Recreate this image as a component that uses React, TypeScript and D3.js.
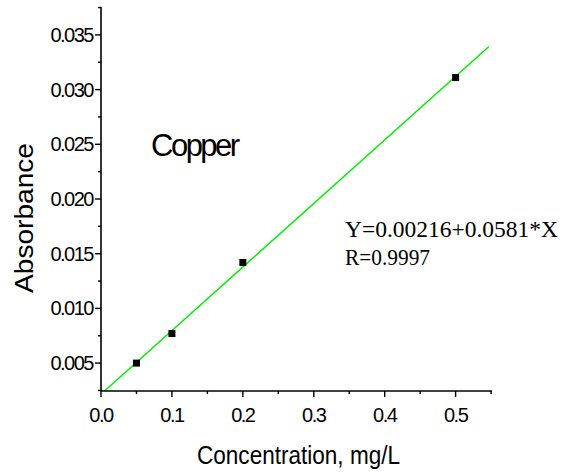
import React from "react";
import * as d3 from "d3";

const concentrations = [0.05, 0.1, 0.2, 0.5];
const absorbances = [0.005, 0.0077, 0.0142, 0.0311];
const fitIntercept = 0.00216;
const fitSlope = 0.0581;
const fitXEnd = 0.547;
const xTicks = [0.0, 0.1, 0.2, 0.3, 0.4, 0.5];
const yTicks = [0.005, 0.01, 0.015, 0.02, 0.025, 0.03, 0.035];
const xMinor = [0.05, 0.15, 0.25, 0.35, 0.45, 0.55];
const yMinor = [0.0025, 0.0075, 0.0125, 0.0175, 0.0225, 0.0275, 0.0325, 0.0375];
const xTitle = "Concentration, mg/L";
const yTitle = "Absorbance";
const label = "Copper";
const eqLine1 = "Y=0.00216+0.0581*X";
const eqLine2 = "R=0.9997";

const W = 569, H = 474;
const left = 101, right = 492, top = 7, bottom = 391;

export default function App() {
  const x = d3.scaleLinear().domain([0, 0.5513]).range([left, right]);
  const y = d3.scaleLinear().domain([0.00245, 0.03755]).range([bottom, top]);
  const fitY = (v: number) => fitIntercept + fitSlope * v;
  const x0 = (0.00245 - fitIntercept) / fitSlope;
  const line = d3.line<number>().x((d) => x(d)).y((d) => y(fitY(d)));
  const font = "Liberation Sans, Arial, sans-serif";
  const serif = "Liberation Serif, Times New Roman, serif";
  return (
    <svg width={W} height={H} style={{ position: "absolute", left: 0, top: 0, background: "#fff" }}>
      <rect width={W} height={H} fill="#fff" />
      <path d={line([x0, fitXEnd]) || ""} stroke="#00ee00" strokeWidth={1.5} fill="none" />
      {concentrations.map((c, i) => (
        <rect key={i} x={x(c) - 3.5} y={y(absorbances[i]) - 3.5} width={7} height={7} fill="#000" />
      ))}
      <line x1={left} x2={left} y1={top} y2={bottom} stroke="#000" strokeWidth={1.6} />
      <line x1={left} x2={right} y1={bottom} y2={bottom} stroke="#000" strokeWidth={1.6} />
      {yTicks.map((t) => (
        <g key={"y" + t}>
          <line x1={left - 6} x2={left} y1={y(t)} y2={y(t)} stroke="#000" strokeWidth={1.4} />
          <text x={left - 8} y={y(t) + 7} textAnchor="end" fontFamily={font} fontSize={20} letterSpacing={-1.5}>
            {t.toFixed(3)}
          </text>
        </g>
      ))}
      {yMinor.map((t) => (
        <line key={"ym" + t} x1={left - 3} x2={left} y1={y(t)} y2={y(t)} stroke="#000" strokeWidth={1.4} />
      ))}
      {xTicks.map((t) => (
        <g key={"x" + t}>
          <line x1={x(t)} x2={x(t)} y1={bottom} y2={bottom + 6} stroke="#000" strokeWidth={1.4} />
          <text x={x(t)} y={bottom + 31} textAnchor="middle" fontFamily={font} fontSize={20} letterSpacing={-1.5}>
            {t.toFixed(1)}
          </text>
        </g>
      ))}
      {xMinor.map((t) => (
        <line key={"xm" + t} x1={x(t)} x2={x(t)} y1={bottom} y2={bottom + 3} stroke="#000" strokeWidth={1.4} />
      ))}
      <text x={197} y={464} fontFamily={font} fontSize={25} textLength={203} lengthAdjust="spacingAndGlyphs">
        {xTitle}
      </text>
      <text transform="translate(33,293) rotate(-90)" fontFamily={font} fontSize={26} textLength={150} lengthAdjust="spacingAndGlyphs">
        {yTitle}
      </text>
      <text x={151} y={156} fontFamily={font} fontSize={31} letterSpacing={-2.5}>
        {label}
      </text>
      <text x={345} y={237} fontFamily={serif} fontSize={24} textLength={213} lengthAdjust="spacingAndGlyphs">
        {eqLine1}
      </text>
      <text x={345} y={265} fontFamily={serif} fontSize={24} textLength={85} lengthAdjust="spacingAndGlyphs">
        {eqLine2}
      </text>
    </svg>
  );
}
